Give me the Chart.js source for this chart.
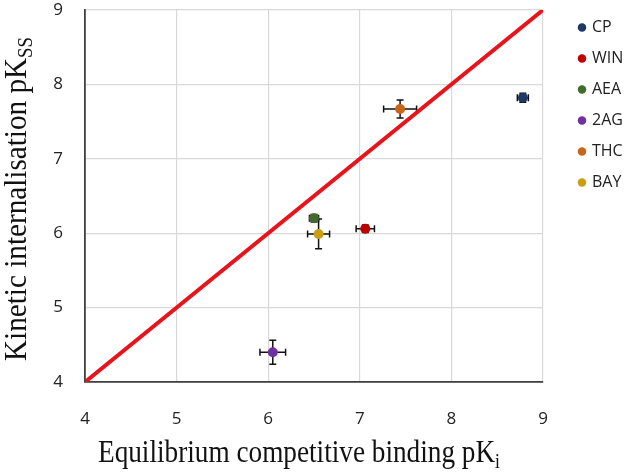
<!DOCTYPE html>
<html><head><meta charset="utf-8">
<script src="https://cdn.jsdelivr.net/npm/chart.js@4"></script>
<style>html,body{margin:0;padding:0;background:#fff;} #wrap{width:630px;height:472px;position:relative;}</style>
</head><body><div id="wrap"><canvas id="c" width="630" height="472"></canvas></div>
<script>
const compounds = ['CP','WIN','AEA','2AG','THC','BAY'];
const pKi = [8.78, 7.06, 6.50, 6.05, 7.44, 6.55];
const pKss = [7.82, 6.06, 6.20, 4.40, 7.67, 5.99];
const pKiErr = [0.06, 0.10, 0.05, 0.14, 0.18, 0.12];
const pKssErr = [0.06, 0.05, 0.05, 0.16, 0.12, 0.20];
const colors = ['#1F3864','#C00000','#446B2E','#7030A0','#C8651B','#C9A013'];
const identityLine = [4, 9];
const tickValues = [4, 5, 6, 7, 8, 9];
const xTitle = 'Equilibrium competitive binding pK';
const xTitleSub = 'i';
const yTitle = 'Kinetic internalisation pK';
const yTitleSub = 'SS';

const datasets = compounds.map((name, i) => ({
  label: name,
  data: [{x: pKi[i], y: pKss[i]}],
  errX: [pKiErr[i]], errY: [pKssErr[i]],
  backgroundColor: colors[i], borderColor: colors[i],
  pointRadius: 5, pointHoverRadius: 5, pointBorderWidth: 0,
  pointStyle: 'circle', showLine: false, order: 1
}));
datasets.push({
  label: 'identity', type: 'line',
  data: identityLine.map(v => ({x: v, y: v})),
  borderColor: '#E8141B', borderWidth: 4, pointRadius: 0, fill: false, order: 5
});

const errorBars = {
  id: 'errorBars',
  beforeDatasetsDraw(chart) {
    const {ctx, scales: {x, y}} = chart;
    ctx.save();
    ctx.strokeStyle = '#111'; ctx.lineWidth = 1.5;
    chart.data.datasets.forEach(ds => {
      if (!ds.errX) return;
      ds.data.forEach((p, j) => {
        const px = x.getPixelForValue(p.x), py = y.getPixelForValue(p.y);
        const x0 = x.getPixelForValue(p.x - ds.errX[j]), x1 = x.getPixelForValue(p.x + ds.errX[j]);
        const y0 = y.getPixelForValue(p.y - ds.errY[j]), y1 = y.getPixelForValue(p.y + ds.errY[j]);
        const c = 3.5;
        ctx.beginPath();
        ctx.moveTo(x0, py); ctx.lineTo(x1, py);
        ctx.moveTo(x0, py - c); ctx.lineTo(x0, py + c);
        ctx.moveTo(x1, py - c); ctx.lineTo(x1, py + c);
        ctx.moveTo(px, y0); ctx.lineTo(px, y1);
        ctx.moveTo(px - c, y0); ctx.lineTo(px + c, y0);
        ctx.moveTo(px - c, y1); ctx.lineTo(px + c, y1);
        ctx.stroke();
      });
    });
    ctx.restore();
  }
};

// draws a title with a subscript, horizontally condensed to a target length
function drawSubTitle(ctx, main, sub, targetLen) {
  const big = '31px "Liberation Serif"', small = '20px "Liberation Serif"';
  ctx.font = big; const w1 = ctx.measureText(main).width;
  ctx.font = small; const w2 = ctx.measureText(sub).width;
  const k = targetLen / (w1 + w2);
  ctx.scale(k, 1);
  const s = -(w1 + w2) / 2;
  ctx.font = big; ctx.fillText(main, s, 0);
  ctx.font = small; ctx.fillText(sub, s + w1, 6);
}

const axisTitles = {
  id: 'axisTitles',
  afterDraw(chart) {
    const {ctx} = chart;
    ctx.save();
    ctx.fillStyle = '#111'; ctx.textBaseline = 'alphabetic';
    ctx.translate(299, 462);
    drawSubTitle(ctx, xTitle, xTitleSub, 402);
    ctx.restore();
    ctx.save();
    ctx.fillStyle = '#111'; ctx.textBaseline = 'alphabetic';
    ctx.translate(26, 199);
    ctx.rotate(-Math.PI / 2);
    drawSubTitle(ctx, yTitle, yTitleSub, 324);
    ctx.restore();
  }
};

// place the legend column the way the reference does
const legendPlacement = {
  id: 'legendPlacement',
  beforeLayout(chart) {
    const lg = chart.legend;
    if (!lg || lg._placed) return;
    lg._placed = true;
    const fit = lg.fit.bind(lg), draw = lg.draw.bind(lg);
    lg.fit = function () { fit(); this.width = 87; };
    lg.draw = function () {
      const l = this.left, t = this.top;
      this.left = 565; this.top = 4.5;
      draw();
      this.left = l; this.top = t;
    };
  }
};

const tickFont = {family: '"Open Sans", sans-serif', size: 17};
new Chart(document.getElementById('c'), {
  type: 'scatter',
  data: {datasets},
  options: {
    responsive: false, animation: false,
    layout: {padding: {top: 10, left: 0, right: 0, bottom: 0}},
    plugins: {
      tooltip: {enabled: false},
      legend: {
        position: 'right', align: 'start',
        labels: {
          usePointStyle: true, pointStyle: 'circle', boxWidth: 4, boxHeight: 6,
          padding: 15, color: '#222', font: {family: '"Open Sans", sans-serif', size: 16},
          filter: item => item.text !== 'identity'
        }
      }
    },
    scales: {
      x: {
        type: 'linear', min: 4, max: 9,
        afterBuildTicks: s => { s.ticks = tickValues.map(v => ({value: v})); },
        afterFit: s => { s.height = 90; s.paddingLeft = 0; s.paddingRight = 0; },
        grid: {color: '#D9D9D9', lineWidth: 1.2, drawTicks: false},
        border: {color: '#404040', width: 1.8},
        ticks: {color: '#222', font: tickFont, padding: 27}
      },
      y: {
        type: 'linear', min: 4, max: 9,
        afterBuildTicks: s => { s.ticks = tickValues.map(v => ({value: v})); },
        afterFit: s => { s.width = 85; s.paddingTop = 0; s.paddingBottom = 0; },
        grid: {color: '#D9D9D9', lineWidth: 1.2, drawTicks: false},
        border: {color: '#404040', width: 1.8},
        ticks: {color: '#222', font: tickFont, padding: 22}
      }
    }
  },
  plugins: [errorBars, axisTitles, legendPlacement]
});
</script></body></html>
